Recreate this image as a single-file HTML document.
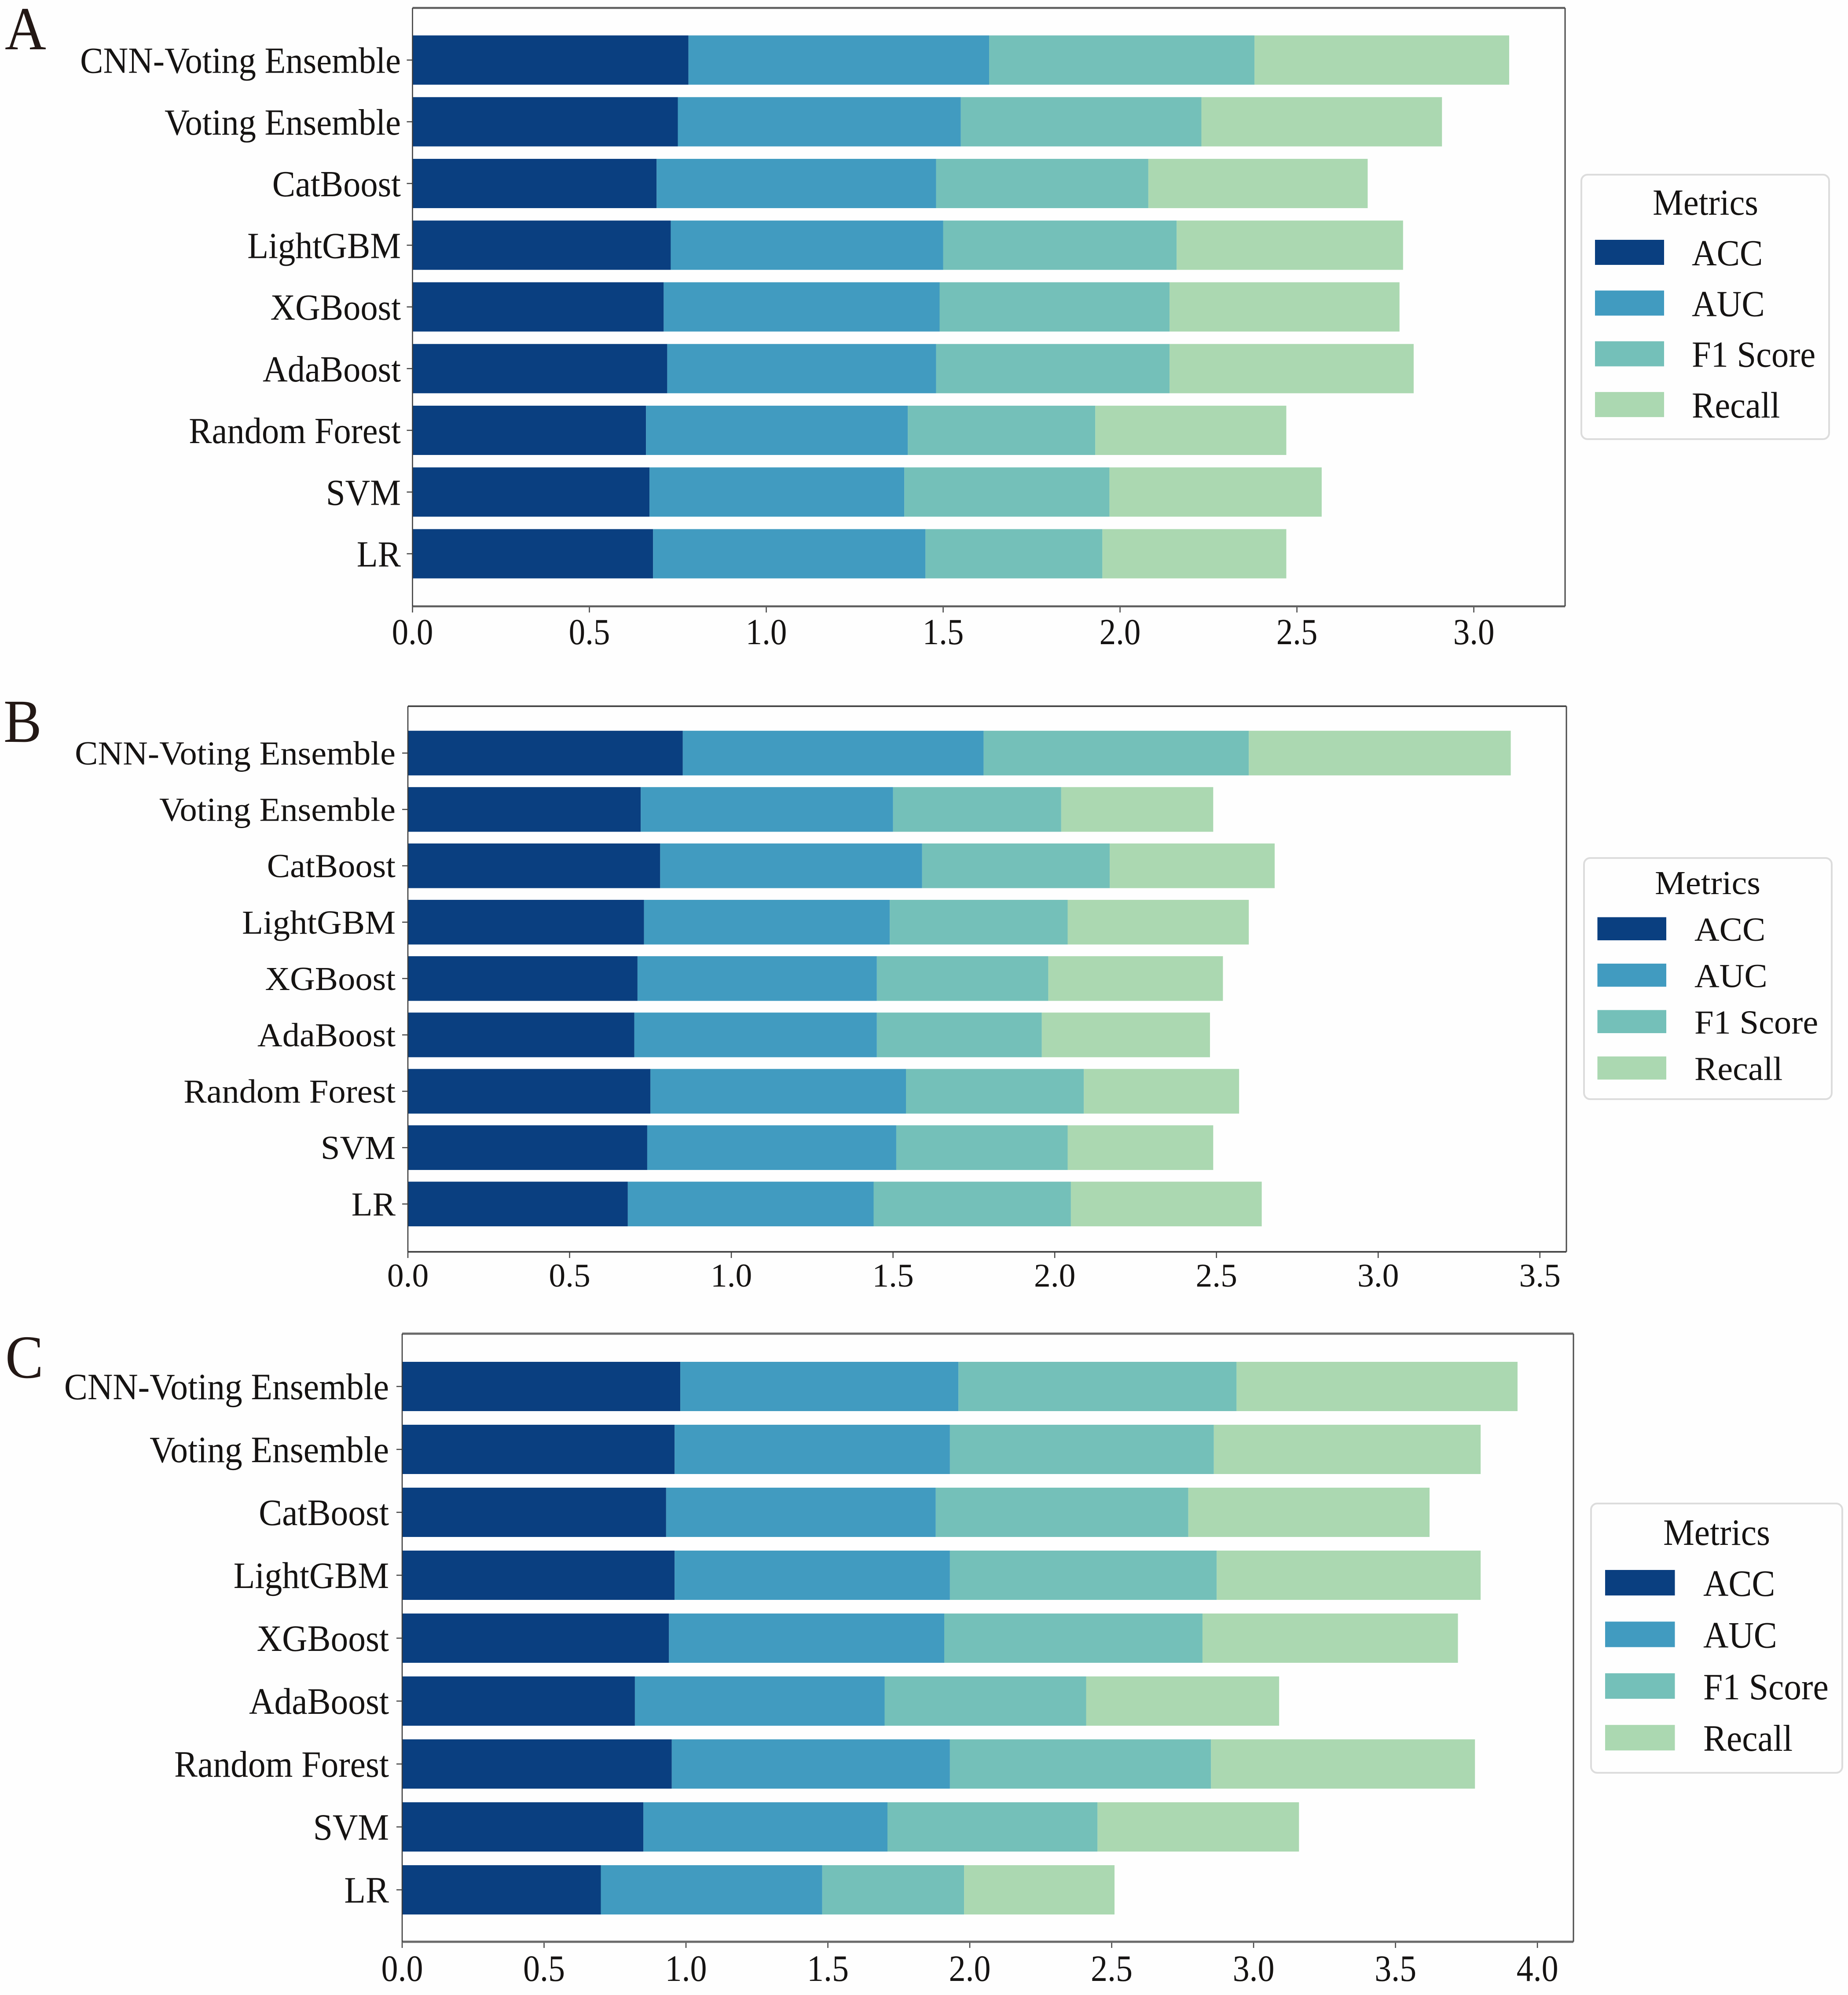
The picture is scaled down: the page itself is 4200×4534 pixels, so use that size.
<!DOCTYPE html>
<html lang="en">
<head>
<meta charset="utf-8">
<title>Stacked model metric comparison</title>
<style>
html,body{margin:0;padding:0;background:#fefefe;}
#chart{display:block;width:4200px;height:4534px;}
text{font-family:"Liberation Serif","Times New Roman",serif;fill:#151312;}
</style>
</head>
<body>
<svg id="chart" xmlns="http://www.w3.org/2000/svg" width="4200" height="4534" viewBox="0 0 4200 4534">
  <rect x="0" y="0" width="4200" height="4534" fill="#fefefe"></rect>
  <text transform="translate(11,112) scale(1,1.07)" font-size="130" style="fill:#231815">A</text>
  <text transform="translate(8,1686) scale(1,1.07)" font-size="130" style="fill:#231815">B</text>
  <text transform="translate(12,3131) scale(1,1.07)" font-size="130" style="fill:#231815">C</text>
</svg>
<script>
const models = ['CNN-Voting Ensemble','Voting Ensemble','CatBoost','LightGBM','XGBoost','AdaBoost','Random Forest','SVM','LR'];
const metricNames = ['ACC','AUC','F1 Score','Recall'];
const legendTitle = 'Metrics';

const panelAAcc = [0.78,0.75,0.69,0.73,0.71,0.72,0.66,0.67,0.68];
const panelAAuc = [0.85,0.80,0.79,0.77,0.78,0.76,0.74,0.72,0.77];
const panelAF1 = [0.75,0.68,0.60,0.66,0.65,0.66,0.53,0.58,0.50];
const panelARecall = [0.72,0.68,0.62,0.64,0.65,0.69,0.54,0.60,0.52];

const panelBAcc = [0.85,0.72,0.78,0.73,0.71,0.70,0.75,0.74,0.68];
const panelBAuc = [0.93,0.78,0.81,0.76,0.74,0.75,0.79,0.77,0.76];
const panelBF1 = [0.82,0.52,0.58,0.55,0.53,0.51,0.55,0.53,0.61];
const panelBRecall = [0.81,0.47,0.51,0.56,0.54,0.52,0.48,0.45,0.59];

const panelCAcc = [0.98,0.96,0.93,0.96,0.94,0.82,0.95,0.85,0.70];
const panelCAuc = [0.98,0.97,0.95,0.97,0.97,0.88,0.98,0.86,0.78];
const panelCF1 = [0.98,0.93,0.89,0.94,0.91,0.71,0.92,0.74,0.50];
const panelCRecall = [0.99,0.94,0.85,0.93,0.90,0.68,0.93,0.71,0.53];

const panelATicks = [0,0.5,1,1.5,2,2.5,3];
const panelATickLabels = ['0.0','0.5','1.0','1.5','2.0','2.5','3.0'];
const panelBTicks = [0,0.5,1,1.5,2,2.5,3,3.5];
const panelBTickLabels = ['0.0','0.5','1.0','1.5','2.0','2.5','3.0','3.5'];
const panelCTicks = [0,0.5,1,1.5,2,2.5,3,3.5,4];
const panelCTickLabels = ['0.0','0.5','1.0','1.5','2.0','2.5','3.0','3.5','4.0'];

const metricColors = ['#0a3f80','#419bc0','#74c0b9','#abd8b1'];
const svgNS = 'http://www.w3.org/2000/svg';
const svg = document.getElementById('chart');

function el(tag, attrs, parent) {
  const node = document.createElementNS(svgNS, tag);
  for (const key in attrs) node.setAttribute(key, attrs[key]);
  parent.appendChild(node);
  return node;
}

function scaledText(content, x, y, size, sy, anchor, parent) {
  const node = el('text', {transform: 'translate(' + x + ',' + y + ') scale(1,' + sy + ')', 'font-size': size, 'text-anchor': anchor}, parent);
  node.textContent = content;
  return node;
}

function drawPanel(key, series, ticks, tickLabels, g) {
  const group = el('g', {}, svg);
  
  

  const xScale = v => g.left + (v / g.xMax) * (g.right - g.left);
  const yCenter = i => g.firstCenter + i * g.pitch;

  models.forEach((model, i) => {
    let total = 0;
    series.forEach((values, s) => {
      const rect = el('rect', {
        x: xScale(total),
        y: yCenter(i) - g.barHeight / 2,
        width: xScale(total + values[i]) - xScale(total),
        height: g.barHeight,
        fill: metricColors[s]
      }, group);
      
      
      total += values[i];
    });

    const tick = el('line', {x1: g.left - 13, x2: g.left, y1: yCenter(i), y2: yCenter(i), stroke: '#444', 'stroke-width': 2.5}, group);
    
    

    const label = scaledText(model, g.labelRight, yCenter(i) + g.labelDrop, g.labelSize, g.textStretch, 'end', group);
    
    
  });

  ticks.forEach((value, i) => {
    const tick = el('line', {x1: xScale(value), x2: xScale(value), y1: g.bottom, y2: g.bottom + 14, stroke: '#444', 'stroke-width': 2.5}, group);
    
    

    const label = scaledText(tickLabels[i], xScale(value), g.tickBaseline, g.tickSize, g.tickStretch, 'middle', group);
    
    
  });

  const spineTop = el('line', {x1: g.left, x2: g.right, y1: g.top, y2: g.top, stroke: g.frameColor, 'stroke-width': g.topWidth}, group);
  
  
  const spineBottom = el('line', {x1: g.left, x2: g.right, y1: g.bottom, y2: g.bottom, stroke: g.frameColor, 'stroke-width': g.topWidth}, group);
  
  
  const spineLeft = el('line', {x1: g.left, x2: g.left, y1: g.top, y2: g.bottom, stroke: '#3a3a3a', 'stroke-width': 2.5}, group);
  
  
  const spineRight = el('line', {x1: g.right, x2: g.right, y1: g.top, y2: g.bottom, stroke: '#4a4a4a', 'stroke-width': 3}, group);
  
  

  const l = g.legend;
  const legend = el('g', {}, group);
  
  

  const box = el('rect', {x: l.left, y: l.top, width: l.right - l.left, height: l.bottom - l.top, rx: 14, ry: 14, fill: '#fefefe', stroke: '#dcdcdc', 'stroke-width': 4}, legend);
  
  

  const title = scaledText(legendTitle, l.titleX, l.titleBaseline, g.labelSize, g.textStretch, 'middle', legend);
  
  

  metricNames.forEach((name, m) => {
    const patchTop = l.firstPatchTop + m * l.patchPitch;
    const patch = el('rect', {x: l.patchLeft, y: patchTop, width: l.patchWidth, height: l.patchHeight, fill: metricColors[m]}, legend);
    
    

    const text = scaledText(name, l.textLeft, patchTop + l.patchHeight + 1, g.labelSize, g.textStretch, 'start', legend);
    
    
  });
}

drawPanel('a', [panelAAcc, panelAAuc, panelAF1, panelARecall], panelATicks, panelATickLabels, {
  left: 937.5, right: 3557, top: 18, bottom: 1378, xMax: 3.258,
  firstCenter: 136.5, pitch: 140.25, barHeight: 112,
  labelRight: 911, labelDrop: 29, labelSize: 78.5, textStretch: 1.07,
  tickBaseline: 1464, tickSize: 75, tickStretch: 1.12,
  frameColor: '#5f5f5f', topWidth: 4.5,
  legend: {left: 3594, right: 4157, top: 397, bottom: 998, titleX: 3876, titleBaseline: 488,
    patchLeft: 3625, patchWidth: 157, patchHeight: 57, firstPatchTop: 545, patchPitch: 115.3, textLeft: 3845}
});

drawPanel('b', [panelBAcc, panelBAuc, panelBF1, panelBRecall], panelBTicks, panelBTickLabels, {
  left: 927, right: 3560, top: 1605, bottom: 2845, xMax: 3.582,
  firstCenter: 1711.5, pitch: 128.1, barHeight: 101.5,
  labelRight: 899, labelDrop: 26, labelSize: 78.5, textStretch: 0.965,
  tickBaseline: 2924, tickSize: 75.5, tickStretch: 1.0,
  frameColor: '#3a3a3a', topWidth: 3.5,
  legend: {left: 3600, right: 4163, top: 1950, bottom: 2498, titleX: 3881, titleBaseline: 2032,
    patchLeft: 3630.5, patchWidth: 156.5, patchHeight: 52.5, firstPatchTop: 2084.5, patchPitch: 105.5, textLeft: 3851}
});

drawPanel('c', [panelCAcc, panelCAuc, panelCF1, panelCRecall], panelCTicks, panelCTickLabels, {
  left: 914, right: 3576, top: 3031, bottom: 4413, xMax: 4.127,
  firstCenter: 3151, pitch: 143, barHeight: 112,
  labelRight: 884, labelDrop: 29, labelSize: 79.5, textStretch: 1.065,
  tickBaseline: 4502, tickSize: 76, tickStretch: 1.11,
  frameColor: '#6a6a6a', topWidth: 5,
  legend: {left: 3616, right: 4187, top: 3417, bottom: 4029, titleX: 3901.5, titleBaseline: 3511,
    patchLeft: 3648, patchWidth: 158.5, patchHeight: 58, firstPatchTop: 3568, patchPitch: 117.4, textLeft: 3871}
});
</script>
</body>
</html>
